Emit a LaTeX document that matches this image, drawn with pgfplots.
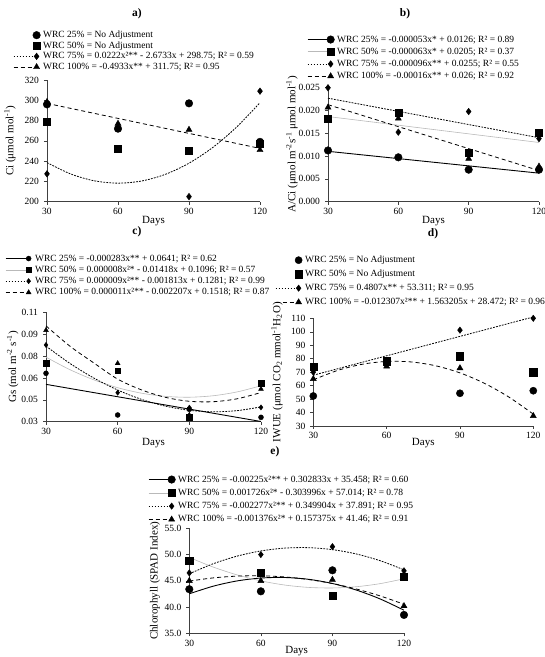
\documentclass[border=0pt]{standalone}
\usepackage{fontspec}
\setmainfont{Liberation Serif}
\usepackage{pgfplots}
\pgfplotsset{compat=1.18}

\pgfplotsset{
  panel/.style={
    scale only axis,
    axis lines=left,
    axis line style={-, black!75, line width=0.6pt},
    xmin=30, xmax=120, xtick={30,60,90,120},
    tick align=outside, major tick length=3pt,
    tick style={black!75, line width=0.5pt},
    ticklabel style={font=\fontsize{9.5}{10}\selectfont},
    /pgf/number format/assume math mode=true,
    yticklabel style={xshift=-1.5pt},
    xlabel={Days},
    label style={font=\fontsize{11}{12}\selectfont},
    title style={font=\fontsize{11.5}{12}\selectfont\bfseries, anchor=center},
    legend cell align=left,
    legend style={draw=none, fill=none, anchor=north west,
      font=\fontsize{9.5}{10}\selectfont, inner sep=0pt, column sep=2pt,
      nodes={inner sep=0.5pt, text height=7pt, text depth=2pt}},
    clip=false,
  },
  % legend symbol: a short sample of the fitted line followed by the marker
  legline/.style={legend image code/.code={%
      \path[draw=none, fill=none] (0pt,-3pt) rectangle (27pt,3pt);
      \draw[#1] (0pt,0pt) -- (21pt,0pt);
      \draw[##1] plot coordinates {(23pt,0pt)};}},
  f25/.style={black, line width=0.9pt, smooth},
  f50/.style={gray!55, line width=0.6pt, smooth},
  f75/.style={black, line width=0.8pt, dash pattern=on 1.8pt off 1.2pt, smooth},
  f100/.style={black, line width=0.8pt, dash pattern=on 4pt off 3pt, smooth},
  m25/.style={only marks, mark=*, mark size=#1, black, mark options={solid, fill=black}},
  m50/.style={only marks, mark=square*, mark size=#1, black, mark options={solid, fill=black}},
  m75/.style={only marks, mark=diamond*, mark size=#1, black, mark options={solid, fill=black}},
  m100/.style={only marks, mark=triangle*, mark size=#1, black, mark options={solid, fill=black}},
}

\begin{document}
\begin{tikzpicture}
\path[use as bounding box] (0pt,0pt) rectangle (545pt,657pt);

% ---------------- a) Ci ----------------
\begin{axis}[panel,
  at={(47pt,455.3pt)}, anchor=south west, width=213pt, height=121.7pt,
  ymin=200, ymax=320, ytick={200,220,...,320},
  ylabel={Ci (μmol mol\textsuperscript{-1})},
  ylabel style={at={(axis description cs:-0.174,0.5)}, anchor=center},
  xlabel style={at={(axis description cs:0.5,-0.16)}, anchor=center},
  title={a)}, title style={at={(axis description cs:0.4225,1.493)}},
  legend style={at={(axis description cs:-0.1596,1.411)}, row sep=0.6pt},
]
\addplot[f75, forget plot] coordinates {(30,238.53)(40,227.34)(50,220.59)(60,218.27)(70,220.40)(80,226.97)(90,237.97)(100,253.42)(110,273.31)(120,297.63)};
\addplot[f100, forget plot] coordinates {(30,296.95)(120,252.55)};
\addplot[m25=3.8pt, legline={draw=none}] coordinates {(30,296)(60,272)(90,297)(120,259)};
\addlegendentry{WRC 25\% = No Adjustment}
\addplot[m50=3.5pt, legline={draw=none}] coordinates {(30,279)(60,252)(90,250)(120,257)};
\addlegendentry{WRC 50\% = No Adjustment}
\addplot[m75=3.3pt, legline={black, line width=0.8pt, dash pattern=on 1.8pt off 1.2pt}] coordinates {(30,227.5)(60,273)(90,205)(120,309)};
\addlegendentry{WRC 75\% = 0.0222x²** - 2.6733x + 298.75; R² = 0.59}
\addplot[m100=3.5pt, legline={black, line width=0.8pt, dash pattern=on 4pt off 3pt}] coordinates {(30,298.5)(60,277)(90,271)(120,251)};
\addlegendentry{WRC 100\% = -0.4933x** + 311.75; R² = 0.95}
\end{axis}

% ---------------- b) A/Ci ----------------
\begin{axis}[panel,
  at={(328pt,455.3pt)}, anchor=south west, width=211pt, height=114.4pt,
  ymin=0, ymax=0.025, ytick={0,0.005,...,0.025}, scaled y ticks=false,
  yticklabel style={/pgf/number format/.cd, fixed, fixed zerofill, precision=3},
  ylabel={A/Ci (μmol m\textsuperscript{-2}s\textsuperscript{-1} μmol mol\textsuperscript{-1})},
  ylabel style={at={(axis description cs:-0.171,0.5)}, anchor=center},
  xlabel style={at={(axis description cs:0.5,-0.168)}, anchor=center},
  title={b)}, title style={at={(axis description cs:0.365,1.588)}},
  legend style={at={(axis description cs:-0.0995,1.463)}, row sep=2.2pt},
]
\addplot[f25, forget plot] coordinates {(30,0.01101)(120,0.00624)};
\addplot[f50, forget plot] coordinates {(30,0.01861)(120,0.01294)};
\addplot[f75, forget plot] coordinates {(30,0.02262)(120,0.01398)};
\addplot[f100, forget plot] coordinates {(30,0.0212)(120,0.0068)};
\addplot[m25=3.8pt, legline={black, line width=0.9pt}] coordinates {(30,0.0112)(60,0.0097)(90,0.0070)(120,0.0070)};
\addlegendentry{WRC 25\% = -0.000053x* + 0.0126; R² = 0.89}
\addplot[m50=3.5pt, legline={gray!55, line width=0.6pt}] coordinates {(30,0.0182)(60,0.0194)(90,0.0107)(120,0.0150)};
\addlegendentry{WRC 50\% = -0.000063x* + 0.0205; R² = 0.37}
\addplot[m75=3.3pt, legline={black, line width=0.8pt, dash pattern=on 1.8pt off 1.2pt}] coordinates {(30,0.0249)(60,0.0152)(90,0.0197)(120,0.0138)};
\addlegendentry{WRC 75\% = -0.000096x** + 0.0255; R² = 0.55}
\addplot[m100=3.5pt, legline={black, line width=0.8pt, dash pattern=on 4pt off 3pt}] coordinates {(30,0.0206)(60,0.0182)(90,0.0094)(120,0.0077)};
\addlegendentry{WRC 100\% = -0.00016x** + 0.026; R² = 0.92}
\end{axis}

% ---------------- c) Gs ----------------
\begin{axis}[panel,
  at={(46pt,235.3pt)}, anchor=south west, width=215pt, height=109.4pt,
  ymin=0.03, ymax=0.105, ytick={0.03,0.045,0.06,0.075,0.09,0.105},
  yticklabels={0.03,0.05,0.06,0.08,0.09,0.11},
  ylabel={Gs (mol m\textsuperscript{-2} s\textsuperscript{-1})},
  ylabel style={at={(axis description cs:-0.155,0.5)}, anchor=center},
  xlabel style={at={(axis description cs:0.5,-0.195)}, anchor=center},
  title={c)}, title style={at={(axis description cs:0.423,1.679)}},
  legend style={at={(axis description cs:-0.1907,1.539)}, row sep=1.3pt},
]
\addplot[f25, forget plot] coordinates {(30,0.05561)(120,0.03014)};
\addplot[f50, forget plot] coordinates {(30,0.07426)(40,0.06568)(50,0.0587)(60,0.05332)(70,0.04954)(80,0.04736)(90,0.04678)(100,0.0478)(110,0.05042)(120,0.05464)};
\addplot[f75, forget plot] coordinates {(30,0.08181)(40,0.06998)(50,0.05995)(60,0.05172)(70,0.04529)(80,0.04066)(90,0.03783)(100,0.0368)(110,0.03757)(120,0.04014)};
\addplot[f100, forget plot] coordinates {(30,0.0957)(40,0.0818)(50,0.0703)(60,0.0592)(70,0.0518)(80,0.0467)(90,0.0440)(100,0.0437)(110,0.0457)(120,0.0500)};
\addplot[m25=2.5pt, legline={black, line width=0.9pt}] coordinates {(30,0.0632)(60,0.0346)(90,0.0385)(120,0.0330)};
\addlegendentry{WRC 25\% = -0.000283x** + 0.0641; R² = 0.62}
\addplot[m50=2.8pt, legline={gray!55, line width=0.6pt}] coordinates {(30,0.0700)(60,0.0650)(90,0.0330)(120,0.0565)};
\addlegendentry{WRC 50\% = 0.000008x²* - 0.01418x + 0.1096; R² = 0.57}
\addplot[m75=2.6pt, legline={black, line width=0.8pt, dash pattern=on 1.8pt off 1.2pt}] coordinates {(30,0.0826)(60,0.0499)(90,0.0396)(120,0.0398)};
\addlegendentry{WRC 75\% = 0.000009x²** - 0.001813x + 0.1281; R² = 0.99}
\addplot[m100=2.8pt, legline={black, line width=0.8pt, dash pattern=on 4pt off 3pt}] coordinates {(30,0.0927)(60,0.0700)(90,0.0346)(120,0.0524)};
\addlegendentry{WRC 100\% = 0.000011x²** - 0.002207x + 0.1518; R² = 0.87}
\end{axis}

% ---------------- d) IWUE ----------------
\begin{axis}[panel,
  at={(313.3pt,231pt)}, anchor=south west, width=220pt, height=107.7pt,
  ymin=30, ymax=110, ytick={30,40,...,110},
  ylabel={IWUE (μmol CO\textsubscript{2} mmol\textsuperscript{-1}H\textsubscript{2}O)},
  ylabel style={at={(axis description cs:-0.165,0.5)}, anchor=center},
  xlabel style={at={(axis description cs:0.5,-0.158)}, anchor=center},
  title={d)}, title style={at={(axis description cs:0.544,1.732)}},
  legend style={at={(axis description cs:-0.174,1.588)}, row sep=4pt},
]
\addplot[f75, forget plot] coordinates {(30,67.732)(120,110.995)};
\addplot[f100, forget plot] coordinates {(30,64.292)(40,71.309)(50,75.865)(60,77.959)(70,77.592)(80,74.764)(90,69.474)(100,61.723)(110,51.510)(120,38.836)};
\addplot[m25=3.6pt, legline={draw=none}] coordinates {(30,52.3)(60,77.5)(90,54.3)(120,56.2)};
\addlegendentry{WRC 25\% = No Adjustment}
\addplot[m50=3.6pt, legline={draw=none}] coordinates {(30,73.8)(60,78.2)(90,81.8)(120,70.0)};
\addlegendentry{WRC 50\% = No Adjustment}
\addplot[m75=3.2pt, legline={black, line width=0.8pt, dash pattern=on 1.8pt off 1.2pt}] coordinates {(30,70.0)(60,76.5)(90,101.2)(120,110.0)};
\addlegendentry{WRC 75\% = 0.4807x** + 53.311; R² = 0.95}
\addplot[m100=3.5pt, legline={black, line width=0.8pt, dash pattern=on 4pt off 3pt}] coordinates {(30,65.0)(60,74.3)(90,73.0)(120,37.5)};
\addlegendentry{WRC 100\% = -0.012307x²** + 1.563205x + 28.472; R² = 0.96}
\end{axis}

% ---------------- e) Chlorophyll ----------------
\begin{axis}[panel,
  at={(189.3pt,23.7pt)}, anchor=south west, width=214.7pt, height=105pt,
  ymin=35, ymax=55, ytick={35,40,...,55},
  yticklabel style={/pgf/number format/.cd, fixed, fixed zerofill, precision=1},
  ylabel={Chlorophyll (SPAD Index)},
  ylabel style={at={(axis description cs:-0.16,0.5)}, anchor=center},
  xlabel style={at={(axis description cs:0.5,-0.17)}, anchor=center},
  title={e)}, title style={at={(axis description cs:0.399,1.67)}},
  legend style={at={(axis description cs:-0.1924,1.514)}, row sep=3.3pt},
]
\addplot[f25, forget plot] coordinates {(30,42.518)(40,43.971)(50,44.975)(60,45.528)(70,45.631)(80,45.285)(90,44.488)(100,43.241)(110,41.545)(120,39.398)};
\addplot[f50, forget plot] coordinates {(30,49.448)(40,47.616)(50,46.129)(60,44.988)(70,44.192)(80,43.741)(90,43.635)(100,43.874)(110,44.459)(120,45.389)};
\addplot[f75, forget plot] coordinates {(30,46.339)(40,48.244)(50,49.694)(60,50.688)(70,51.227)(80,51.311)(90,50.939)(100,50.111)(110,48.829)(120,47.091)};
\addplot[f100, forget plot] coordinates {(30,44.943)(40,45.553)(50,45.889)(60,45.949)(70,45.734)(80,45.244)(90,44.478)(100,43.438)(110,42.122)(120,40.531)};
\addplot[m25=3.8pt, legline={black, line width=0.9pt}] coordinates {(30,43.4)(60,43.0)(90,47.0)(120,38.5)};
\addlegendentry{WRC 25\% = -0.00225x²** + 0.302833x + 35.458; R² = 0.60}
\addplot[m50=3.6pt, legline={gray!55, line width=0.6pt}] coordinates {(30,48.8)(60,46.5)(90,42.1)(120,45.8)};
\addlegendentry{WRC 50\% = 0.001726x²* - 0.303996x + 57.014; R² = 0.78}
\addplot[m75=3.2pt, legline={black, line width=0.8pt, dash pattern=on 1.8pt off 1.2pt}] coordinates {(30,46.5)(60,50.0)(90,51.5)(120,46.9)};
\addlegendentry{WRC 75\% = -0.002277x²** + 0.349904x + 37.891; R² = 0.95}
\addplot[m100=3.5pt, legline={black, line width=0.8pt, dash pattern=on 4pt off 3pt}] coordinates {(30,45.0)(60,45.0)(90,45.2)(120,40.2)};
\addlegendentry{WRC 100\% = -0.001376x²* + 0.157375x + 41.46; R² = 0.91}
\end{axis}
\end{tikzpicture}
\end{document}
